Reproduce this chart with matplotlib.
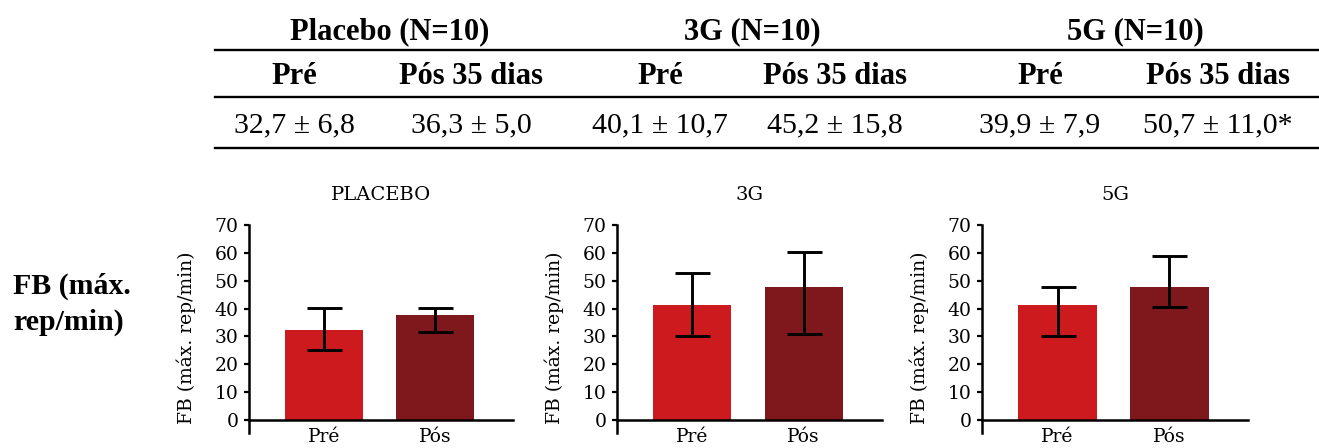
import matplotlib
matplotlib.use("Agg")
import matplotlib.pyplot as plt
from matplotlib.lines import Line2D

W, H = 1319, 448

# table at the top
table_groups = ["Placebo (N=10)", "3G (N=10)", "5G (N=10)"]
table_periods = ["Pré", "Pós 35 dias"]
table_values = ["32,7 ± 6,8", "36,3 ± 5,0", "40,1 ± 10,7",
                "45,2 ± 15,8", "39,9 ± 7,9", "50,7 ± 11,0*"]
row_label = "FB (máx.\nrep/min)"

panel_titles = ["PLACEBO", "3G", "5G"]
bar_labels = ["Pré", "Pós"]
bar_means = [[32.3, 37.7], [41.3, 47.6], [41.3, 47.6]]
err_low = [[25.1, 31.7], [30.3, 30.9], [30.3, 40.4]]
err_high = [[40.1, 40.1], [52.6, 60.4], [47.9, 59.0]]
y_label = "FB (máx. rep/min)"

BAR_COLORS = ["#CC1A1F", "#7E181D"]
TABLE_FONT = "Liberation Serif"
plt.rcParams["font.family"] = "DejaVu Serif"


def fx(px):
    return px / W


def fy(py):
    return 1 - py / H


fig = plt.figure(figsize=(W / 100, H / 100), dpi=100)

# ---- table ----
group_x = [390, 752, 1135]
col_x = [294, 471, 660, 835, 1040, 1218]
for name, x in zip(table_groups, group_x):
    fig.text(fx(x), fy(32), name, ha="center", va="center", fontsize=22,
             fontweight="bold", family=TABLE_FONT)
for i, x in enumerate(col_x):
    fig.text(fx(x), fy(76), table_periods[i % 2], ha="center", va="center",
             fontsize=22, fontweight="bold", family=TABLE_FONT)
    fig.text(fx(x), fy(125), table_values[i], ha="center", va="center",
             fontsize=21.5, family=TABLE_FONT)
for y in [50, 97, 148]:
    fig.add_artist(Line2D([fx(215), fx(1319)], [fy(y), fy(y)], color="black",
                          lw=1.7, transform=fig.transFigure))

fig.text(fx(13), fy(304), row_label, ha="left", va="center", fontsize=21.5,
         fontweight="bold", family=TABLE_FONT, linespacing=1.4)

# ---- bar panels ----
axes_left = [249, 617, 982]
axes_width = [264, 265, 266]
y_bottom = -4.7
for k, ax_left in enumerate(axes_left):
    ax = fig.add_axes([fx(ax_left), fy(433), axes_width[k] / W, 208 / H])
    x = [0, 1]
    means = bar_means[k]
    lo = [m - l for m, l in zip(means, err_low[k])]
    hi = [h - m for m, h in zip(means, err_high[k])]
    ax.bar(x, means, width=0.70, color=BAR_COLORS, zorder=2)
    ax.errorbar(x, means, yerr=[lo, hi], fmt="none", ecolor="black",
                elinewidth=2.1, capsize=12.6, capthick=2.1, zorder=3)
    ax.set_xlim(-0.676, 1.703)
    ax.set_ylim(y_bottom, 70)
    ax.set_yticks(range(0, 71, 10))
    ax.set_xticks(x, labels=bar_labels)
    ax.spines["top"].set_visible(False)
    ax.spines["right"].set_visible(False)
    ax.spines["bottom"].set_position(("data", 0))
    for side in ["left", "bottom"]:
        ax.spines[side].set_linewidth(1.8)
    ax.tick_params(axis="y", length=3.5, width=1.6, pad=4, labelsize=13.5)
    ax.tick_params(axis="x", length=0, pad=6, labelsize=13.5)
    ax.set_title(panel_titles[k], fontsize=14, pad=18)
    ax.set_ylabel(y_label, fontsize=13.5)
    ax.yaxis.set_label_coords(-0.2, 0.46)

fig.savefig("out.png", dpi=100)
